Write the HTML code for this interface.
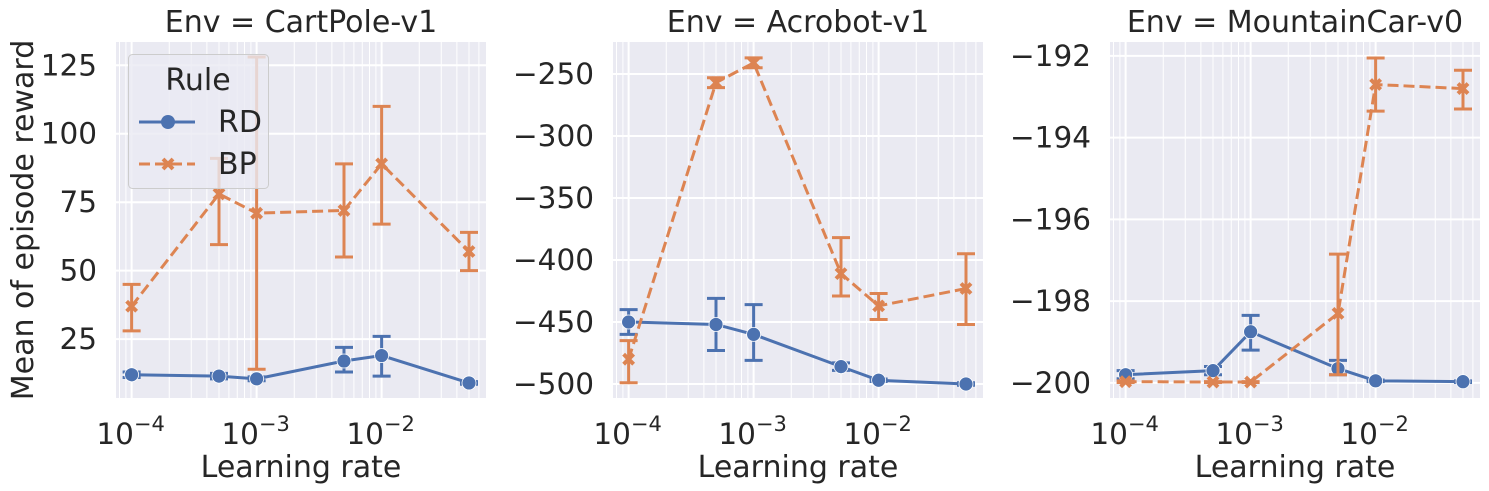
<!DOCTYPE html>
<html><head><meta charset="utf-8"><style>
body{margin:0;background:#fff}
svg{display:block;font-family:"DejaVu Sans","Liberation Sans",sans-serif}
</style></head><body>
<svg id="chart" width="1489" height="491" viewBox="0 0 1489 491"></svg>
<script>
const lrs=[1e-4,5e-4,1e-3,5e-3,1e-2,5e-2];
const envNames=["CartPole-v1","Acrobot-v1","MountainCar-v0"];
const cpRD=[12,11.5,10.5,17,19,9];
const cpRDlo=[11,10.5,9.8,13,11.5,8.5];
const cpRDhi=[13,12.5,11.2,22,26,9.5];
const cpBP=[37,78,71,72,89,57];
const cpBPlo=[28,59.5,14,55,67,50];
const cpBPhi=[45,91,128,89,110,64];
const acRD=[-450,-452,-460,-486,-497,-500];
const acRDlo=[-460,-473,-481,-489,-498,-501];
const acRDhi=[-440,-431,-436,-483,-496,-499];
const acBP=[-480,-257,-241,-411,-437,-423];
const acBPlo=[-499,-261,-245,-429,-448,-452];
const acBPhi=[-465,-253,-237,-382,-427,-395];
const mcRD=[-199.8,-199.7,-198.75,-199.65,-199.95,-199.97];
const mcRDlo=[-199.9,-199.8,-199.2,-199.8,-199.97,-199.99];
const mcRDhi=[-199.7,-199.6,-198.35,-199.45,-199.93,-199.95];
const mcBP=[-199.97,-199.98,-199.98,-198.3,-192.7,-192.8];
const mcBPlo=[-199.99,-199.99,-199.99,-199.8,-193.35,-193.3];
const mcBPhi=[-199.95,-199.97,-199.97,-196.85,-192.05,-192.35];
const cpTicks=[25,50,75,100,125];
const acTicks=[-500,-450,-400,-350,-300,-250];
const mcTicks=[-200,-198,-196,-194,-192];

const NS="http://www.w3.org/2000/svg";
const svg=document.getElementById('chart');
function mk(tag,attrs,parent){const e=document.createElementNS(NS,tag);for(const k in attrs)e.setAttribute(k,attrs[k]);(parent||svg).appendChild(e);return e;}
const BLUE="#4c72b0",ORANGE="#dd8452",TXT="#262626";
const T=42,B=398,W=370,FS=29.5;

function panel(i,left,yMin,yMax,ticks,tickFmt,rd,rdlo,rdhi,bp,bplo,bphi){
  const g=mk('g',{});
  
  
  const xMin=-4.125,xMax=-4.125+W/125;
  const X=v=>left+(Math.log10(v)-xMin)/(xMax-xMin)*W;
  const Y=v=>B-(v-yMin)/(yMax-yMin)*(B-T);
  const bg=mk('rect',{x:left,y:T,width:W,height:B-T,fill:'#eaeaf2'},g);
  
  
  for(let d=-5;d<=-1;d++)for(let m=2;m<=9;m++){const v=m*Math.pow(10,d);const x=X(v);if(x>left&&x<left+W)mk('line',{x1:x,x2:x,y1:T,y2:B,stroke:'#fff','stroke-width':1},g);}
  for(let d=-4;d<=-2;d++){const x=X(Math.pow(10,d));mk('line',{x1:x,x2:x,y1:T,y2:B,stroke:'#fff','stroke-width':2},g);
    const t=mk('text',{x:x-1,y:444,'text-anchor':'middle','font-size':FS,fill:TXT},g);
    
    
    t.innerHTML='10<tspan dy="-13" font-size="21">\u2212'+(-d)+'</tspan>';}
  ticks.forEach(v=>{const y=Y(v);mk('line',{x1:left,x2:left+W,y1:y,y2:y,stroke:'#fff','stroke-width':2},g);
    const t=mk('text',{x:left-19,y:y+10,'text-anchor':'end','font-size':FS,fill:TXT},g);
    
    
    t.textContent=tickFmt(v);});
  const tt=mk('text',{x:left+W/2,y:32,'text-anchor':'middle','font-size':30,fill:TXT},g);
  
  
  tt.textContent='Env = '+envNames[i];
  const xl=mk('text',{x:left+W/2,y:477,'text-anchor':'middle','font-size':30,fill:TXT},g);
  
  
  xl.textContent='Learning rate';
  const series=(vals,lo,hi,color,dash,marker,name)=>{
    const sg=mk('g',{},g);
    
    
    const pts=lrs.map((l,k)=>X(l)+','+Y(vals[k])).join(' ');
    mk('polyline',{points:pts,fill:'none',stroke:color,'stroke-width':3,'stroke-dasharray':dash},sg);
    lrs.forEach((l,k)=>{const x=X(l);
      const eb=mk('path',{d:`M${x},${Y(lo[k])}V${Y(hi[k])}M${x-9},${Y(lo[k])}h18M${x-9},${Y(hi[k])}h18`,stroke:color,'stroke-width':3,fill:'none'},sg);
      
      
      const y=Y(vals[k]);let m;
      if(marker==='o')m=mk('circle',{cx:x,cy:y,r:7,fill:color,stroke:'#fff','stroke-width':0.8},sg);
      else m=mk('path',{d:`M${x-5},${y-5}L${x+5},${y+5}M${x+5},${y-5}L${x-5},${y+5}`,stroke:color,'stroke-width':4},sg);
      
      
    });
  };
  series(rd,rdlo,rdhi,BLUE,'none','o','rd');
  series(bp,bplo,bphi,ORANGE,'11,5','x','bp');
}
const fmt=v=>(v<0?'\u2212'+(-v):''+v);
panel(0,116,3.5,133.5,cpTicks,fmt,cpRD,cpRDlo,cpRDhi,cpBP,cpBPlo,cpBPhi);
panel(1,613,-511.3,-224.2,acTicks,fmt,acRD,acRDlo,acRDhi,acBP,acBPlo,acBPhi);
panel(2,1110,-200.37,-191.66,mcTicks,fmt,mcRD,mcRDlo,mcRDhi,mcBP,mcBPlo,mcBPhi);

const yl=mk('text',{x:0,y:0,transform:'translate(33,220) rotate(-90)','text-anchor':'middle','font-size':30,fill:TXT});


yl.textContent='Mean of episode reward';

const lg=mk('g',{});


mk('rect',{x:128.5,y:54.5,width:140,height:134,rx:4,fill:'#eaeaf2','fill-opacity':0.8,stroke:'#cccccc'},lg);
const lt=mk('text',{x:198,y:90,'text-anchor':'middle','font-size':30,fill:TXT},lg);


lt.textContent='Rule';
const e1=mk('g',{},lg);


mk('line',{x1:139,x2:195,y1:122,y2:122,stroke:BLUE,'stroke-width':3},e1);
mk('circle',{cx:168,cy:122,r:7,fill:BLUE},e1);
const t1=mk('text',{x:218,y:132,'font-size':30,fill:TXT},e1);t1.textContent='RD';
const e2=mk('g',{},lg);


mk('line',{x1:139,x2:195,y1:164,y2:164,stroke:ORANGE,'stroke-width':3,'stroke-dasharray':'11,5'},e2);
mk('path',{d:'M163,159L173,169M173,159L163,169',stroke:ORANGE,'stroke-width':4},e2);
const t2=mk('text',{x:218,y:174,'font-size':30,fill:TXT},e2);t2.textContent='BP';
</script>
</body></html>
